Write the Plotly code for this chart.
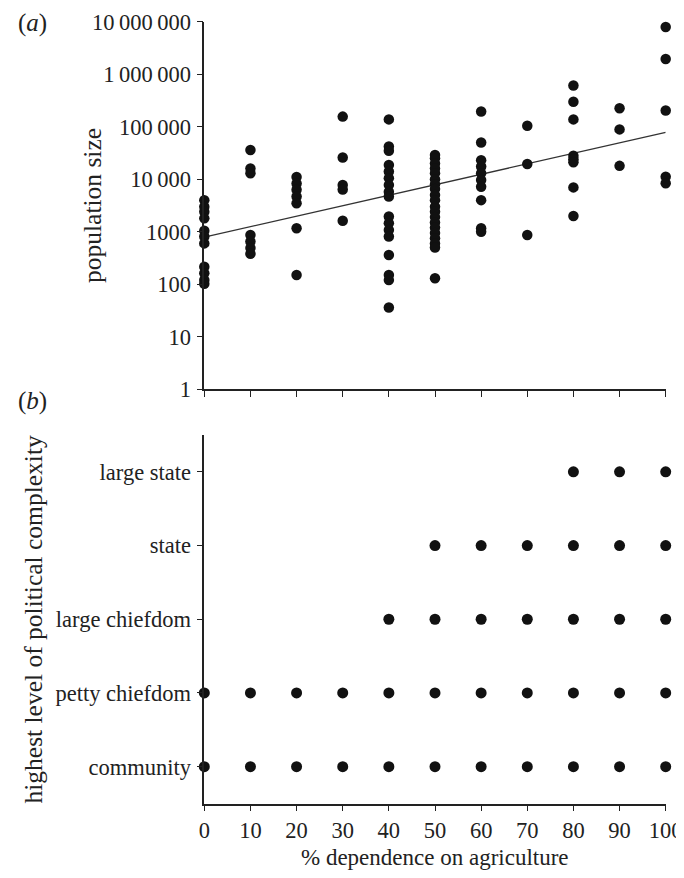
import plotly.graph_objects as go

# ---------------- data ----------------
# panel (a): population size by % dependence on agriculture
pop_x0 = [4000, 3000, 2400, 1800, 1050, 810, 600, 215, 162, 121, 102]
pop_x10 = [36000, 16000, 13000, 870, 650, 490, 380]
pop_x20 = [11000, 8300, 6300, 4700, 3500, 1170, 150]
pop_x30 = [156000, 26000, 7800, 6400, 1620]
pop_x40 = [138000, 42000, 35000, 18700, 14000, 10500, 7800, 5800, 4700,
           1950, 1450, 1080, 810, 360, 150, 120, 36]
pop_x50 = [29000, 25000, 20000, 16000, 13000, 10000, 8000, 6500, 5000, 4000,
           3000, 2400, 1900, 1500, 1200, 950, 750, 600, 500, 130]
pop_x60 = [195000, 50000, 23000, 17500, 13000, 9700, 7200, 4000, 1170, 1000]
pop_x70 = [104000, 19500, 870]
pop_x80 = [610000, 300000, 138000, 28000, 24000, 21000, 7000, 2000]
pop_x90 = [225000, 89000, 18000]
pop_x100 = [7900000, 1950000, 204000, 11200, 8400]

agri_levels = [0, 10, 20, 30, 40, 50, 60, 70, 80, 90, 100]
pop_by_level = [pop_x0, pop_x10, pop_x20, pop_x30, pop_x40, pop_x50,
                pop_x60, pop_x70, pop_x80, pop_x90, pop_x100]

trend_x = [0, 100]
trend_y = [790, 78000]

pop_tickvals = [1, 10, 100, 1000, 10000, 100000, 1000000, 10000000]
pop_ticktext = ["1", "10", "100", "1000", "10\u2009000", "100\u2009000",
                "1\u2009000\u2009000", "10\u2009000\u2009000"]

# panel (b): highest level of political complexity
complexity_levels = ["community", "petty chiefdom", "large chiefdom",
                     "state", "large state"]
complexity_x = {
    "community": [0, 10, 20, 30, 40, 50, 60, 70, 80, 90, 100],
    "petty chiefdom": [0, 10, 20, 30, 40, 50, 60, 70, 80, 90, 100],
    "large chiefdom": [40, 50, 60, 70, 80, 90, 100],
    "state": [50, 60, 70, 80, 90, 100],
    "large state": [80, 90, 100],
}

# ---------------- figure ----------------
# page body has an 8px margin, so the figure is 8px smaller and offset
OFF = 8
W, H = 684 - OFF, 878 - OFF
FONT = "Liberation Serif"
INK = "#111111"
TXT = "#222222"

def px_x(p):
    return (p - OFF) / W

def px_y(p):
    return 1 - (p - OFF) / H

x_dom = [px_x(204.3), px_x(665.7)]
ya_dom = [px_y(389.3), px_y(21.7)]
yb_dom = [px_y(803.5), px_y(435.0)]

fig = go.Figure()

xs, ys = [], []
for lvl, vals in zip(agri_levels, pop_by_level):
    xs += [lvl] * len(vals)
    ys += vals

fig.add_trace(go.Scatter(
    x=trend_x, y=trend_y, mode="lines",
    line=dict(color="#333333", width=1.3),
    xaxis="x", yaxis="y", showlegend=False, hoverinfo="skip"))

fig.add_trace(go.Scatter(
    x=xs, y=ys, mode="markers",
    marker=dict(size=10.5, color=INK),
    cliponaxis=False, xaxis="x", yaxis="y", showlegend=False))

bx, by = [], []
for lev in complexity_levels:
    bx += complexity_x[lev]
    by += [lev] * len(complexity_x[lev])

fig.add_trace(go.Scatter(
    x=bx, y=by, mode="markers",
    marker=dict(size=11, color=INK),
    cliponaxis=False, xaxis="x2", yaxis="y2", showlegend=False))

axis_common = dict(
    showgrid=False, zeroline=False, showline=True, automargin=False,
    linecolor="#222222", linewidth=1.6,
    ticks="outside", ticklen=6, tickwidth=1.4, tickcolor="#222222",
    tickfont=dict(family=FONT, size=22.5, color=TXT),
)

fig.update_layout(
    width=W, height=H,
    margin=dict(l=0, r=0, t=0, b=0, autoexpand=False),
    paper_bgcolor="white", plot_bgcolor="white",
    font=dict(family=FONT, color=TXT),
    xaxis=dict(domain=x_dom, anchor="y", range=[0, 100],
               tickvals=agri_levels, showticklabels=False, **axis_common),
    yaxis=dict(domain=ya_dom, anchor="x", type="log", range=[0, 7],
               tickvals=pop_tickvals, ticktext=pop_ticktext,
               ticklabelstandoff=1, **axis_common),
    xaxis2=dict(domain=x_dom, anchor="y2", range=[0, 100],
                tickvals=agri_levels, ticklabelstandoff=0, **axis_common),
    yaxis2=dict(domain=yb_dom, anchor="x2", type="category",
                categoryorder="array", categoryarray=complexity_levels,
                range=[-0.5, 4.5], ticklabelstandoff=1, **axis_common),
)

ann_font = dict(family=FONT, size=25.5, color=TXT)
fig.add_annotation(text="population size", x=px_x(92.5), y=px_y(205.5),
                   xref="paper", yref="paper", textangle=-90,
                   showarrow=False, font=ann_font, xanchor="center", yanchor="middle")
fig.add_annotation(text="highest level of political complexity",
                   x=px_x(32.5), y=px_y(620), xref="paper", yref="paper",
                   textangle=-90, showarrow=False, font=ann_font,
                   xanchor="center", yanchor="middle")
fig.add_annotation(text="% dependence on agriculture", x=px_x(435), y=px_y(857),
                   xref="paper", yref="paper", showarrow=False,
                   font=dict(family=FONT, size=23, color=TXT),
                   xanchor="center", yanchor="middle")
fig.add_annotation(text="(<i>a</i>)", x=px_x(32), y=px_y(23),
                   xref="paper", yref="paper", showarrow=False,
                   font=dict(family=FONT, size=25, color=TXT),
                   xanchor="center", yanchor="middle")
fig.add_annotation(text="(<i>b</i>)", x=px_x(32), y=px_y(401),
                   xref="paper", yref="paper", showarrow=False,
                   font=dict(family=FONT, size=25, color=TXT),
                   xanchor="center", yanchor="middle")

fig.write_html("out.html")
